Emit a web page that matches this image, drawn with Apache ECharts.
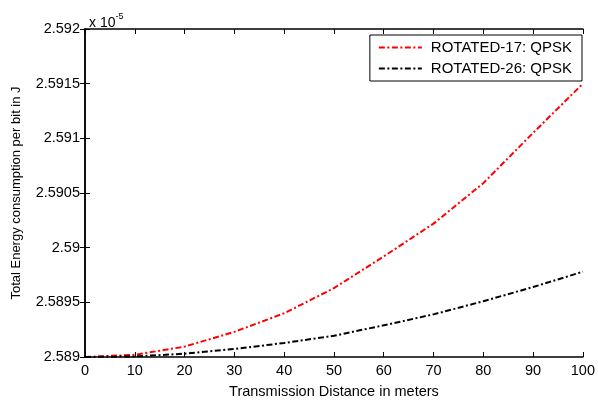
<!DOCTYPE html>
<html>
<head>
<meta charset="utf-8">
<script src="https://cdn.jsdelivr.net/npm/echarts@6/dist/echarts.min.js"></script>
<style>
html,body{margin:0;padding:0;background:#fff;overflow:hidden;}
#chart{width:598px;height:404px;}
</style>
</head>
<body>
<div id="chart"></div>
<script>
// Data (values in units of 1e-5 J)
const distances = [0, 10, 20, 30, 40, 50, 60, 70, 80, 90, 100];
const rotated17 = [2.5890, 2.58902, 2.589095, 2.58923, 2.58940, 2.58963, 2.58992, 2.59022, 2.59059, 2.59105, 2.59150];
const rotated26 = [2.5890, 2.589005, 2.58903, 2.589074, 2.589128, 2.589194, 2.58929, 2.58939, 2.58951, 2.58964, 2.58978];
const seriesNames = ['ROTATED-17: QPSK', 'ROTATED-26: QPSK'];
const xTickLabels = ['0', '10', '20', '30', '40', '50', '60', '70', '80', '90', '100'];
const yTickLabels = ['2.589', '2.5895', '2.59', '2.5905', '2.591', '2.5915', '2.592'];

const font = 'Liberation Sans, Arial, Helvetica, sans-serif';
const chart = echarts.init(document.getElementById('chart'), null, {renderer: 'canvas'});

const yMin = 2.589, yMax = 2.592, yStep = 0.0005;
function yLabel(v) {
  const idx = Math.round((v - yMin) / yStep);
  return yTickLabels[idx] !== undefined ? yTickLabels[idx] : '';
}
function xLabel(v) {
  const idx = Math.round(v / 10);
  return xTickLabels[idx] !== undefined ? xTickLabels[idx] : '';
}

const dashDot = [6, 2.5, 2, 2.5];
const fs = 14.5;

chart.setOption({
  animation: false,
  backgroundColor: '#fff',
  grid: {left: 85, right: 13, top: 29, bottom: 39, containLabel: false},
  title: {
    text: '{a|x 10}{b|-5}',
    left: 84, top: 5,
    textStyle: {
      fontWeight: 'normal',
      rich: {
        a: {fontFamily: font, fontSize: 14, fontWeight: 'normal', color: '#000', padding: [6, 0, 0, 0]},
        b: {fontFamily: font, fontSize: 9, fontWeight: 'normal', color: '#000', padding: [0, 0, 6, 0]}
      }
    }
  },
  legend: {
    right: 16, top: 35,
    orient: 'vertical',
    itemWidth: 43, itemHeight: 10, itemGap: 6,
    padding: [5, 10, 5, 8],
    borderColor: '#000', borderWidth: 1,
    backgroundColor: '#fff',
    itemStyle: {opacity: 0},
    textStyle: {fontFamily: font, fontSize: 15, color: '#000', padding: [0, 0, 0, 4]},
    data: seriesNames
  },
  xAxis: [{
    type: 'value', min: 0, max: 100, interval: 10,
    name: 'Transmission Distance in meters', nameLocation: 'middle', nameGap: 27,
    nameTextStyle: {fontFamily: font, fontSize: fs, color: '#000'},
    axisLine: {onZero: false, lineStyle: {color: '#000', width: 1.5}},
    axisTick: {inside: true, length: 5, lineStyle: {color: '#000'}},
    axisLabel: {fontFamily: font, fontSize: fs, color: '#000', margin: 6, formatter: xLabel},
    splitLine: {show: false}
  }, {
    type: 'value', min: 0, max: 100, interval: 10, position: 'top',
    axisLine: {show: true, lineStyle: {color: '#000', width: 1.5}},
    axisTick: {inside: true, length: 5, lineStyle: {color: '#000'}},
    axisLabel: {show: false}, splitLine: {show: false}
  }],
  yAxis: [{
    type: 'value', min: yMin, max: yMax, interval: yStep,
    name: 'Total Energy consumption per bit in J', nameLocation: 'middle', nameGap: 62,
    nameTextStyle: {fontFamily: font, fontSize: 13, color: '#000'},
    axisLine: {onZero: false, lineStyle: {color: '#000', width: 1.5}},
    axisTick: {inside: true, length: 5, lineStyle: {color: '#000'}},
    axisLabel: {fontFamily: font, fontSize: fs, color: '#000', margin: 5, formatter: yLabel},
    splitLine: {show: false}
  }, {
    type: 'value', min: yMin, max: yMax, interval: yStep, position: 'right',
    axisLine: {show: true, lineStyle: {color: '#000', width: 1.5}},
    axisTick: {inside: true, length: 5, lineStyle: {color: '#000'}},
    axisLabel: {show: false}, splitLine: {show: false}
  }],
  series: [{
    name: seriesNames[0], type: 'line', xAxisIndex: 0, yAxisIndex: 0,
    data: distances.map((d, i) => [d, rotated17[i]]),
    symbol: 'none', showSymbol: false,
    color: '#ff0000',
    lineStyle: {color: '#ff0000', width: 2, type: dashDot}
  }, {
    name: seriesNames[1], type: 'line', xAxisIndex: 0, yAxisIndex: 0,
    data: distances.map((d, i) => [d, rotated26[i]]),
    symbol: 'none', showSymbol: false,
    color: '#000000',
    lineStyle: {color: '#000000', width: 2, type: dashDot}
  }]
});
</script>
</body>
</html>
